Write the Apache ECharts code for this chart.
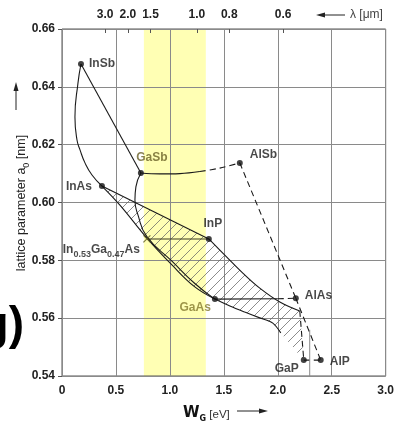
<!DOCTYPE html>
<html><head><meta charset="utf-8">
<script src="https://cdn.jsdelivr.net/npm/echarts@6/dist/echarts.min.js"></script>
<style>html,body{margin:0;padding:0;background:#fff;}#c{width:397px;height:428px;}</style>
</head><body><div id="c"></div>
<script>
// ---- data ----
const compounds = ['InSb','GaSb','AlSb','InAs','InP','GaAs','AlAs','GaP','AlP'];
const bandGap   = [0.176, 0.731, 1.648, 0.370, 1.361, 1.417, 2.167, 2.241, 2.398];
const latticeA  = [0.6479,0.6102,0.6137,0.6057,0.5874,0.5666,0.5669,0.5455,0.5455];

const inGaAsPoint = [0.787, 0.5874];

const xTicks = [0, 0.5, 1.0, 1.5, 2.0, 2.5, 3.0];
const yTicks = [0.54, 0.56, 0.58, 0.60, 0.62, 0.64, 0.66];
const lambdaLabels = ['3.0','2.0','1.5','1.0','0.8','0.6'];
const lambdaTickE  = [0.40, 0.61, 0.82, 1.25, 1.55, 2.05];

const bandE = [0.759, 1.333];

const curveInSbInAs = [[0.176,0.6479],[0.148,0.6413],[0.120,0.6296],[0.139,0.6216],[0.167,0.6182],[0.213,0.6137],[0.278,0.6095],[0.370,0.6057]];
const curveInSbGaSb = [[0.176,0.6479],[0.731,0.6102]];
const curveGaSbGaAs = [[0.731,0.6102],[0.685,0.6054],[0.676,0.6009],[0.704,0.5957],[0.787,0.5882],[1.019,0.5797],[1.231,0.5720],[1.417,0.5666]];
const curveInAsGaAs = [[0.370,0.6057],[0.537,0.5991],[0.787,0.5877],[1.019,0.5784],[1.231,0.5708],[1.417,0.5666]];
const curveInAsInP  = [[0.370,0.6057],[1.361,0.5874]];
const curveInPGaP   = [[1.361,0.5874],[1.509,0.5818],[1.676,0.5756],[1.833,0.5704],[2.019,0.5656],[2.204,0.5625]];
const curveCornerGaP= [[2.204,0.5625],[2.241,0.5455]];
const curveGaAsGaP  = [[1.417,0.5666],[1.556,0.5642],[1.694,0.5621],[1.833,0.5601],[1.954,0.5583],[2.028,0.5549]];
const curveGaAsAlAsSolid  = [[1.417,0.5666],[2.000,0.5667]];
const curveGaAsAlAsDashed = [[2.000,0.5667],[2.167,0.5669]];
const curveGaSbAlSbSolid  = [[0.731,0.6102],[0.907,0.6099],[1.093,0.6100],[1.278,0.6107]];
const curveGaSbAlSbDashed = [[1.278,0.6107],[1.463,0.6119],[1.648,0.6137]];
const curveAlSbAlAs = [[1.648,0.6137],[2.167,0.5669]];
const curveAlAsAlP  = [[2.167,0.5669],[2.398,0.5455]];
const curveGaPAlP   = [[2.241,0.5455],[2.398,0.5455]];
const curveInPInGaAs= [[1.361,0.5874],[0.787,0.5874]];
const partialGridLine = [[2.296,0.556],[2.296,0.540]];

const hatchRegion = [[0.370,0.6057],[1.361,0.5874],[1.509,0.5818],[1.676,0.5756],[1.833,0.5704],[2.019,0.5656],[2.204,0.5625],
  [2.241,0.5455],[2.028,0.5549],[1.954,0.5583],[1.833,0.5601],[1.694,0.5621],[1.556,0.5642],[1.417,0.5666],
  [1.231,0.5708],[1.019,0.5784],[0.787,0.5877],[0.537,0.5991]];

// ---- styling ----
const labelStyle = {
  InSb:{position:'right',distance:5,offset:[0,0]},
  GaSb:{position:'top',distance:6,offset:[11,0],color:'#6a6228'},
  AlSb:{position:'right',distance:7,offset:[0,-8]},
  InAs:{position:'left',distance:7,offset:[0,1]},
  InP:{position:'top',distance:6,offset:[4,0]},
  GaAs:{position:'left',distance:3,offset:[2,9],color:'#857a2e'},
  AlAs:{position:'right',distance:6,offset:[0,-3]},
  GaP:{position:'left',distance:2,offset:[0,9]},
  AlP:{position:'right',distance:6,offset:[0,2]}
};

function hatchPattern(){
  const c=document.createElement('canvas'); c.width=10; c.height=10;
  const g=c.getContext('2d'); g.strokeStyle='#666'; g.lineWidth=0.75;
  g.beginPath(); g.moveTo(0,10); g.lineTo(10,0); g.moveTo(-1,1); g.lineTo(1,-1); g.moveTo(9,11); g.lineTo(11,9); g.stroke();
  return c;
}
const pattern = {image: hatchPattern(), repeat:'repeat'};

function lineSeries(data, opts){
  opts = opts || {};
  return {type:'line', data:data, symbol:'none', showSymbol:false, silent:true, z:3,
    smooth: opts.smooth||false,
    lineStyle:{color: opts.color||'#1a1a1a', width: opts.width||1.1, type: opts.dashed ? [6,4] : 'solid'}};
}

const chart = echarts.init(document.getElementById('c'), null, {renderer:'canvas'});
const font = 'Liberation Sans, Arial, sans-serif';

const option = {
  animation:false,
  backgroundColor:'#fff',
  grid:{left:62, top:29, width:324, height:347, show:true, borderColor:'#555', borderWidth:1, backgroundColor:'transparent'},
  xAxis:[
    {type:'value', min:xTicks[0], max:xTicks[xTicks.length-1], interval:0.5, position:'bottom',
     axisLine:{show:false}, axisTick:{show:false},
     axisLabel:{margin:9, color:'#222', fontSize:12, fontWeight:'bold', fontFamily:font,
       formatter:v=> v===0 ? '0' : v.toFixed(1)},
     splitLine:{show:true, lineStyle:{color:'#8a8a8a', width:1}}},
    {type:'value', min:xTicks[0], max:xTicks[xTicks.length-1], position:'top',
     axisLine:{show:false},
     axisTick:{show:true, inside:true, length:4, customValues:lambdaTickE, lineStyle:{color:'#555'}},
     axisLabel:{show:true, margin:8, customValues:lambdaTickE, color:'#222', fontSize:12, fontWeight:'bold', fontFamily:font,
       formatter:v=>{ const i=lambdaTickE.indexOf(v); return i>=0?lambdaLabels[i]:''; }},
     splitLine:{show:false}}
  ],
  yAxis:{type:'value', min:yTicks[0], max:yTicks[yTicks.length-1], interval:0.02,
    axisLine:{show:false}, axisTick:{show:true, length:4, lineStyle:{color:'#555'}},
    axisLabel:{margin:7, color:'#222', fontSize:12, fontWeight:'bold', fontFamily:font, formatter:v=>v.toFixed(2)},
    splitLine:{show:true, lineStyle:{color:'#8a8a8a', width:1}}},
  series:[
    {type:'custom', z:-2, silent:true, clip:true, data:[bandE],
     renderItem:(params, api)=>{
       const p0 = api.coord([api.value(0), yTicks[yTicks.length-1]]);
       const p1 = api.coord([api.value(1), yTicks[0]]);
       return {type:'rect', shape:{x:p0[0], y:p0[1], width:p1[0]-p0[0], height:p1[1]-p0[1]},
         style:{fill:'#ffffb4'}};
     }},
    {type:'custom', z:1, silent:true, clip:true, data:[[0,0]],
     renderItem:(params, api)=>{
       const pts = hatchRegion.map(p=>api.coord(p));
       return {type:'polygon', shape:{points:pts}, style:{fill:pattern, stroke:null}};
     }},
    lineSeries(curveInSbInAs,{smooth:0.5}),
    lineSeries(curveInSbGaSb),
    lineSeries(curveGaSbGaAs,{smooth:0.5}),
    lineSeries(curveInAsGaAs,{smooth:0.4}),
    lineSeries(curveInAsInP),
    lineSeries(curveInPGaP,{smooth:0.4}),
    lineSeries(curveCornerGaP,{dashed:true}),
    lineSeries(curveGaAsGaP,{smooth:0.3}),
    lineSeries(curveGaAsAlAsSolid),
    lineSeries(curveGaAsAlAsDashed,{dashed:true}),
    lineSeries(curveGaSbAlSbSolid,{smooth:0.4}),
    lineSeries(curveGaSbAlSbDashed,{dashed:true, smooth:0.3}),
    lineSeries(curveAlSbAlAs,{dashed:true}),
    lineSeries(curveAlAsAlP,{dashed:true}),
    lineSeries(curveGaPAlP,{dashed:true}),
    lineSeries(curveInPInGaAs,{color:'#3a3a20'}),
    lineSeries(partialGridLine,{color:'#8a8a8a', width:1}),
    {type:'scatter', z:5, silent:true, symbol:'circle', symbolSize:6,
     itemStyle:{color:'#111'},
     data: compounds.map((n,i)=>{
       const s = labelStyle[n];
       return {name:n, value:[bandGap[i], latticeA[i]],
         label:{show:true, formatter:n, position:s.position, distance:s.distance, offset:s.offset,
           color:s.color||'#1a1a1a', fontSize:12, fontWeight:'bold', fontFamily:font}};
     })},
    {type:'scatter', z:5, silent:true, symbol:'path://M0,0L10,10M10,0L0,10', symbolSize:7,
     itemStyle:{color:'transparent', borderColor:'#5d5a22', borderWidth:1.2},
     data:[{value:inGaAsPoint,
       label:{show:true, position:'left', distance:3, offset:[0,10],
         formatter:'{m|In}{s|0.53}{m|Ga}{s|0.47}{m|As}',
         rich:{m:{fontSize:12, fontWeight:'bold', color:'#1a1a1a', fontFamily:font, verticalAlign:'bottom', lineHeight:14},
               s:{fontSize:9, fontWeight:'bold', color:'#1a1a1a', fontFamily:font, verticalAlign:'bottom', lineHeight:9, padding:[0,0,-3,0]}}}}]}
  ],
  graphic:[
    {type:'text', x:21, y:203, rotation:Math.PI/2,
     style:{text:'{m|lattice parameter a}{s|0}{m| [nm]}', align:'center', verticalAlign:'middle',
       rich:{m:{fontSize:12.5, fontFamily:font, fill:'#222', verticalAlign:'bottom', lineHeight:14},
             s:{fontSize:9, fontFamily:font, fill:'#222', verticalAlign:'bottom', lineHeight:9, padding:[0,0,-3,0]}}}},
    {type:'line', shape:{x1:16, y1:110, x2:16, y2:88}, style:{stroke:'#222', lineWidth:1}},
    {type:'polygon', shape:{points:[[13.5,91],[18.5,91],[16,82]]}, style:{fill:'#222'}},
    {type:'line', shape:{x1:345, y1:15, x2:322, y2:15}, style:{stroke:'#222', lineWidth:1}},
    {type:'polygon', shape:{points:[[325,12.5],[325,17.5],[316,15]]}, style:{fill:'#222'}},
    {type:'text', x:350, y:15, style:{text:'λ [μm]', fontSize:12, fontFamily:font, fill:'#444', align:'left', verticalAlign:'middle'}},
    {type:'text', x:183, y:413,
     style:{text:'{w|W}{g|G}{u| [eV]}', align:'left', verticalAlign:'middle',
       rich:{w:{fontSize:15, fontWeight:'bold', fontFamily:'DejaVu Sans', fill:'#111', verticalAlign:'bottom', lineHeight:16},
             g:{fontSize:8, fontWeight:'bold', fontFamily:'DejaVu Sans', fill:'#111', verticalAlign:'bottom', lineHeight:8, padding:[0,0,-2,0]},
             u:{fontSize:11.5, fontFamily:font, fill:'#333', verticalAlign:'bottom', lineHeight:15}}}},
    {type:'line', shape:{x1:237, y1:411, x2:262, y2:411}, style:{stroke:'#222', lineWidth:1}},
    {type:'polygon', shape:{points:[[259,408.5],[259,413.5],[268,411]]}, style:{fill:'#222'}},
    {type:'text', x:24, y:326, style:{text:'g)', fontSize:46, fontWeight:'bold', fontFamily:font, fill:'#000', align:'right', verticalAlign:'middle'}}
  ]
};
chart.setOption(option);
</script>
</body></html>
